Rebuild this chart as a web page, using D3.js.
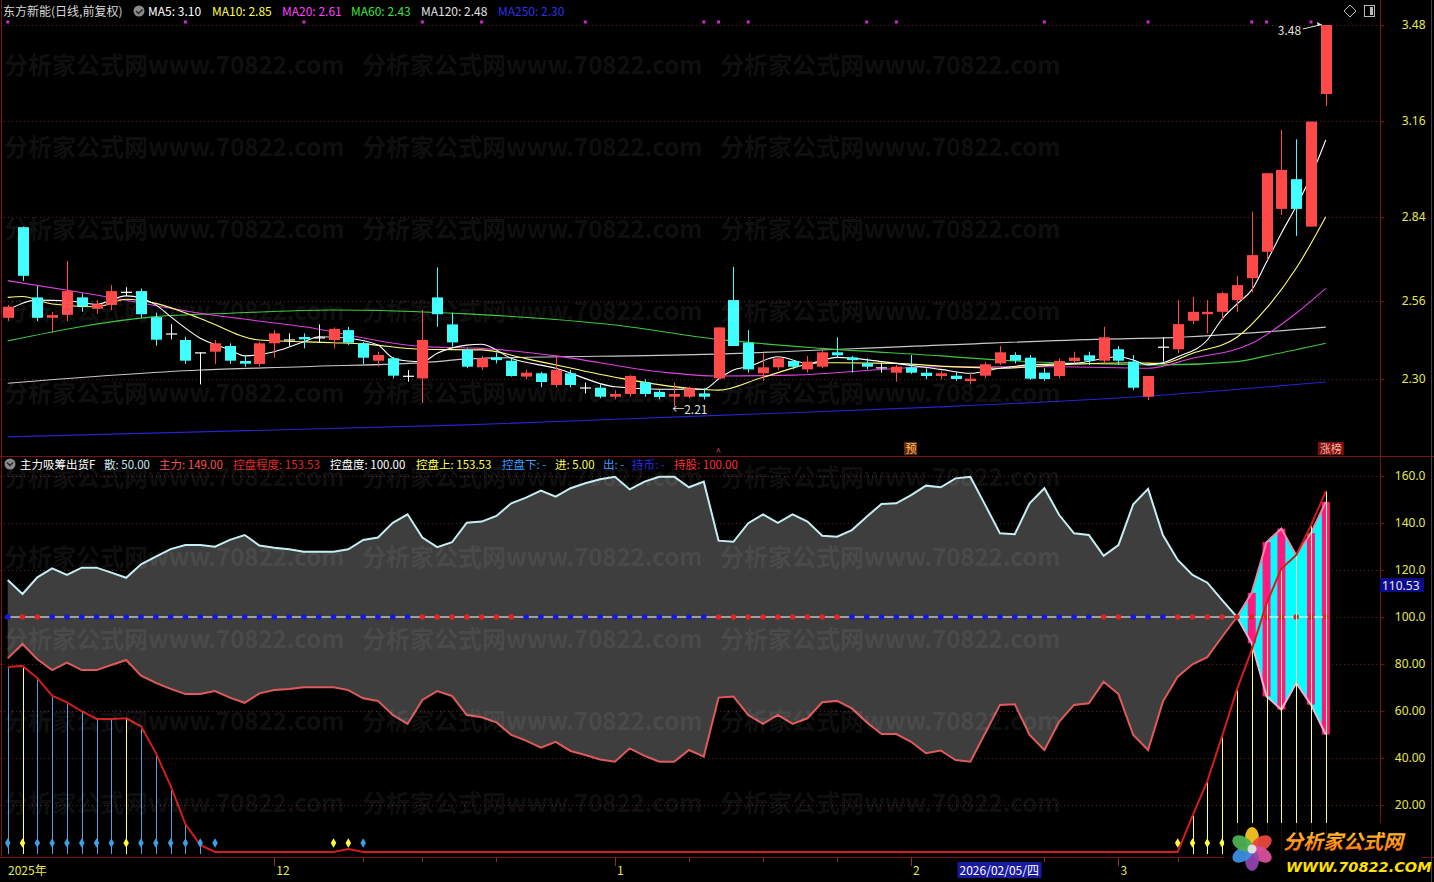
<!DOCTYPE html>
<html>
<head>
<meta charset="utf-8">
<script src="https://cdn.jsdelivr.net/npm/d3@7"></script>
<style>
  body { margin: 0; background: #000; overflow: hidden; }
  text { font-family: "Noto Sans CJK SC", "Noto Sans", sans-serif; }
</style>
</head>
<body>
<script>
// ---- price data, one entry per trading day ----
const openP = [2.504,2.806,2.572,2.504,2.514,2.572,2.534,2.547,2.591,2.593, 2.506,2.452,2.430,2.389,2.391,2.410,2.360,2.350,2.419,2.432,
  2.440,2.439,2.430,2.463,2.419,2.361,2.369,2.311,2.302,2.572, 2.482,2.397,2.339,2.372,2.361,2.308,2.319,2.280,2.319,2.272,
  2.271,2.241,2.250,2.289,2.257,2.241,2.241,2.252,2.302,2.563, 2.421,2.319,2.339,2.360,2.332,2.341,2.389,2.372,2.352,2.339,
  2.321,2.339,2.321,2.310,2.311,2.293,2.311,2.352,2.380,2.371, 2.321,2.310,2.360,2.379,2.361,2.399,2.358,2.241,2.408,2.399,
  2.494,2.516,2.524,2.563,2.636,2.724,2.867,2.966,2.808,3.250];
const highP = [2.547,2.808,2.610,2.524,2.694,2.585,2.563,2.613,2.606,2.602, 2.521,2.483,2.441,2.389,2.430,2.419,2.380,2.424,2.463,2.452,
  2.452,2.482,2.472,2.474,2.424,2.391,2.374,2.330,2.530,2.672, 2.521,2.402,2.377,2.388,2.369,2.330,2.324,2.379,2.330,2.288,
  2.286,2.263,2.313,2.299,2.263,2.288,2.274,2.269,2.472,2.674, 2.463,2.386,2.377,2.363,2.377,2.399,2.439,2.377,2.369,2.354,
  2.347,2.380,2.336,2.328,2.324,2.319,2.356,2.410,2.389,2.380, 2.336,2.369,2.391,2.391,2.474,2.410,2.380,2.310,2.439,2.563,
  2.574,2.563,2.591,2.643,2.858,2.986,3.130,3.099,3.158,3.480];
const lowP = [2.494,2.627,2.493,2.454,2.493,2.524,2.517,2.530,2.577,2.504, 2.411,2.432,2.350,2.282,2.350,2.350,2.341,2.341,2.371,2.410,
  2.402,2.421,2.402,2.413,2.350,2.341,2.302,2.291,2.221,2.474, 2.408,2.336,2.330,2.352,2.308,2.299,2.272,2.272,2.272,2.252,
  2.236,2.232,2.241,2.241,2.232,2.210,2.236,2.232,2.300,2.410, 2.321,2.294,2.330,2.332,2.321,2.336,2.369,2.321,2.332,2.321,
  2.291,2.317,2.299,2.299,2.294,2.282,2.302,2.347,2.352,2.297, 2.294,2.302,2.352,2.347,2.352,2.347,2.263,2.230,2.358,2.386,
  2.483,2.452,2.497,2.524,2.588,2.697,2.847,2.777,2.808,3.210];
const closeP = [2.541,2.644,2.504,2.513,2.593,2.543,2.549,2.593,2.591,2.516, 2.431,2.452,2.361,2.389,2.419,2.361,2.351,2.419,2.452,2.432,
  2.432,2.439,2.467,2.421,2.371,2.380,2.311,2.311,2.430,2.516, 2.422,2.341,2.369,2.363,2.310,2.321,2.290,2.330,2.280,2.272,
  2.241,2.250,2.310,2.250,2.240,2.250,2.269,2.241,2.472,2.410, 2.332,2.339,2.369,2.341,2.358,2.389,2.379,2.363,2.341,2.339,
  2.341,2.321,2.310,2.319,2.300,2.301,2.349,2.389,2.361,2.301, 2.300,2.360,2.371,2.361,2.439,2.361,2.271,2.310,2.408,2.483,
  2.524,2.524,2.586,2.613,2.713,2.986,2.997,2.867,3.158,3.480];

// moving average lines, sampled as [day, value]
const ma5Pts = [[0,2.53],[2,2.563],[4,2.561],[6,2.549],[8,2.577],[10,2.547],[11,2.508],[13,2.436],[15,2.397],[16,2.377],[18,2.391],
  [20,2.424],[21,2.441],[23,2.436],[25,2.413],[26,2.37],[27,2.36],[28,2.358],[29,2.386],[31,2.413],[32,2.416],[34,2.369],[37,2.336],
  [41,2.274],[44,2.266],[47,2.266],[48,2.30],[49,2.33],[50,2.341],[52,2.374],[54,2.352],[56,2.372],[59,2.358],[63,2.332],[65,2.319],
  [67,2.336],[69,2.347],[72,2.352],[75,2.374],[76,2.363],[77,2.347],[78,2.354],[79,2.374],[81,2.43],[82,2.50],[83,2.55],[84,2.597],
  [85,2.69],[86,2.786],[87,2.876],[88,2.976],[89,3.097]];
const ma10Pts = [[0,2.572],[1,2.575],[3,2.55],[6,2.541],[8,2.566],[10,2.552],[13,2.502],[17,2.43],[22,2.421],[24,2.417],[28,2.399],
  [32,2.397],[35,2.368],[41,2.306],[46,2.269],[48,2.263],[51,2.306],[55,2.354],[60,2.352],[63,2.343],[67,2.336],[71,2.347],[76,2.354],
  [78,2.352],[80,2.386],[83,2.439],[85,2.536],[87,2.669],[89,2.841]];
const ma20Pts = [[0,2.628],[6,2.58],[13,2.519],[20,2.474],[28,2.408],[32,2.402],[37,2.377],[44,2.324],[48,2.31],[53,2.313],[63,2.341],
  [71,2.341],[77,2.336],[80,2.369],[84,2.419],[87,2.519],[89,2.602]];
const ma60Pts = [[0,2.427],[10,2.508],[15,2.519],[22,2.53],[31,2.517],[41,2.48],[48,2.432],[55,2.402],[63,2.377],[67,2.363],[74,2.35],
  [78,2.347],[83,2.358],[85,2.377],[89,2.419]];
const ma120Pts = [[0,2.286],[13,2.33],[20,2.341],[29,2.358],[31,2.367],[47,2.382],[63,2.413],[74,2.433],[78,2.437],[89,2.473]];
const ma250Pts = [[0,2.107],[31,2.147],[47,2.177],[63,2.207],[76,2.24],[89,2.29]];

const priceTicks = [3.48, 3.16, 2.84, 2.56, 2.30];
const topDotDays = [0,12,20,28,32,39,47,48,50,58,60,70,77,84,85,88];

// ---- indicator panel data ----
const zhuli = [115.7,109.8,116.9,120.7,117.9,121,121,118.9,116.7,122.4, 125.7,128.9,130.6,130.6,129.9,132.8,134.9,130.4,129.5,128.8,
  127.8,127.8,127.8,128.8,132.8,133.8,140.1,143.7,133.8,129.7, 131.8,140.1,140.6,143,148.4,150.8,153.8,151.2,154.8,156.9,
  158.6,159.7,154.3,157.6,159.7,159.7,155.2,157.6,132.5,132, 139.9,143.7,140.1,143.7,140.6,134.6,134.2,137,142.7,148.1,
  148.4,151.9,155.9,155.2,159,159.7,147.7,135.6,135.2,148.4, 154.8,143.4,135.6,134.9,126,130.6,148,154.5,134.9,124.3,
  117.9,114.6,107.2,100,110.3,131.9,137.6,126.3,135.7,149];
const san = [82.4,88.5,82,77.4,80.6,77.4,77.4,79.6,81.7,75, 72,69.4,67.2,67.2,68.5,65.7,63.5,67.5,68.9,69.4,
  70.1,70.1,70.1,68.9,65.4,64.3,58.3,54.5,64.7,68.5, 66.4,58.3,57.3,55.2,49.8,47.4,44.4,46.9,43,41.3,
  39.4,38.4,44.1,40.9,38.4,38.4,43.4,40.6,65.7,66.2, 58.3,54.5,58.3,54.5,56.9,63.7,64.3,61.1,55.2,50.2,
  50.2,46.9,42,43.2,39.1,38.4,50.5,62.6,62.9,49.8, 43.4,55.5,62.6,63.3,72.5,67.2,49.8,43.4,64,74.6,
  79.9,82.9,91.6,100,88.8,66.2,60.6,71.9,62.7,50];
const kongpan = [78.7,79.2,74,66.5,63.7,59.9,56.6,56.6,56.9,53.5, 42.2,28.1,11.9,3,0,0,0,0,0,0,
  0,0,0,1.3,0,0,0,0,0,0, 0,0,0,0,0,0,0,0,0,0,
  0,0,0,0,0,0,0,0,0,0, 0,0,0,0,0,0,0,0,0,0,
  0,0,0,0,0,0,0,0,0,0, 0,0,0,0,0,0,0,0,0,0,
  15.4,30.2,49.3,69.1,86,105.8,120.6,126.3,139,153.5];
const redDotDays = [1,2,28,29,30,31,32,33,34,48,49,50,51,52,53,54,55,56,74,75,79,80,81,82,83,84,85,86,87,88,89];
const pinkBarDays = [84,85,86,88,89];
const blueStickDays = [0,2,3,4,5,6,7,9,10,11,12,13];
const yellowStickDays = [1,8,80,81,82,83,84,85,86,87,88,89];
const blueDiamondDays = [0,2,3,4,5,6,7,9,10,11,12,13,14,24];
const yellowDiamondDays = [1,8,22,23,79,80,81,82];
const indTicks = [160,140,120,100,80,60,40,20];

// ---- date axis ----
const monthDays = [18,41,61,75];
const monthLabels = ["12","1","2","3"];
const minorDays = [24,28,33,46,51,56,70,79];
const cursorDay = 64;
const cursorLabel = "2026/02/05/四";

const W = 1434, H = 882;
const axisX = 1380;
const frame = "#7a1414";

const svg = d3.select("body").append("svg").attr("width", W).attr("height", H)
  .style("background", "#000");

const x = d3.scaleLinear().domain([0, 89]).range([7.7, 1325.8]);
const yP = d3.scaleLinear().domain([2.30, 3.48]).range([379, 25]);
const yI = d3.scaleLinear().domain([0, 160]).range([852, 476]);

// grid lines
svg.append("g").selectAll("line").data(priceTicks).join("line")
  .attr("x1", 0).attr("x2", axisX).attr("y1", d => Math.round(yP(d)) + .5).attr("y2", d => Math.round(yP(d)) + .5)
  .attr("stroke", "#5a2222").attr("stroke-dasharray", "1,3");
svg.append("g").selectAll("line").data(indTicks).join("line")
  .attr("x1", 0).attr("x2", axisX).attr("y1", d => Math.round(yI(d)) + .5).attr("y2", d => Math.round(yI(d)) + .5)
  .attr("stroke", "#5a2222").attr("stroke-dasharray", "1,3");

// ================= top panel =================
const lineGen = d3.line().x(d => x(d[0])).y(d => yP(d[1])).curve(d3.curveMonotoneX);
const maDefs = [[ma250Pts, "#2424d0"], [ma120Pts, "#c8c8c8"], [ma60Pts, "#3cc83c"], [ma20Pts, "#e040e0"], [ma10Pts, "#ffff78"], [ma5Pts, "#ffffff"]];
maDefs.forEach(([pts, c]) => {
  svg.append("path").attr("d", lineGen(pts)).attr("fill", "none").attr("stroke", c).attr("stroke-width", 1.1);
});

const days = d3.range(openP.length);
const candle = svg.append("g").selectAll("g").data(days).join("g");
function cColor(i) {
  if (Math.abs(closeP[i] - openP[i]) < 0.0015) return "#ffffff";
  return closeP[i] > openP[i] ? "#ff4848" : "#40ffff";
}
candle.append("line")
  .attr("x1", i => Math.round(x(i)) + .5).attr("x2", i => Math.round(x(i)) + .5)
  .attr("y1", i => yP(highP[i])).attr("y2", i => yP(lowP[i]))
  .attr("stroke", cColor).attr("stroke-width", 1);
candle.append("rect")
  .attr("x", i => Math.round(x(i)) - 5).attr("width", 11)
  .attr("y", i => yP(Math.max(openP[i], closeP[i])))
  .attr("height", i => Math.max(1.2, Math.abs(yP(openP[i]) - yP(closeP[i]))))
  .attr("fill", cColor);

// magenta markers along top
svg.append("g").selectAll("rect").data(topDotDays).join("rect")
  .attr("x", d => x(d) - 1.5).attr("y", 20.5).attr("width", 3).attr("height", 3).attr("fill", "#d028d0");

// high / low annotations
svg.append("text").attr("x", x(89) - 48).attr("y", 35).attr("fill", "#e0e0e0").attr("font-size", 12).text("3.48");
svg.append("line").attr("x1", x(89) - 23).attr("y1", 29).attr("x2", x(89) - 4).attr("y2", 24.5).attr("stroke", "#e0e0e0");
svg.append("path").attr("d", `M${x(89) - 4},24.5 l-5,-2.5 l1,4 z`).attr("fill", "#e0e0e0");
svg.append("text").attr("x", x(45) - 2).attr("y", yP(2.21) + 8).attr("fill", "#e0e0e0").attr("font-size", 12).text("←2.21");

// signal labels at bottom of the price panel
svg.append("text").attr("x", x(48) - 3).attr("y", 456).attr("fill", "#e0407a").attr("font-size", 10).text("^");
svg.append("rect").attr("x", x(61) - 7).attr("y", 442).attr("width", 13).attr("height", 13).attr("fill", "#6e2a10");
svg.append("text").attr("x", x(61)).attr("y", 453).attr("text-anchor", "middle").attr("fill", "#ffc060").attr("font-size", 11).text("预");
svg.append("rect").attr("x", x(89) - 8).attr("y", 442).attr("width", 26).attr("height", 13).attr("fill", "#7a1010");
svg.append("text").attr("x", x(89) + 5).attr("y", 453).attr("text-anchor", "middle").attr("fill", "#ffb0a0").attr("font-size", 11).text("涨榜");

// ================= indicator panel =================
const leftDays = d3.range(0, 84);
const rightDays = d3.range(83, 90);
const areaGen = d3.area().x(i => x(i)).y0(i => yI(san[i])).y1(i => yI(zhuli[i]));
svg.append("path").attr("d", areaGen(leftDays)).attr("fill", "#3e3e3e");
svg.append("path").attr("d", areaGen(rightDays)).attr("fill", "#00ffff");
svg.append("g").selectAll("rect").data(pinkBarDays).join("rect")
  .attr("x", i => x(i) - 4).attr("width", 8)
  .attr("y", i => yI(zhuli[i])).attr("height", i => yI(san[i]) - yI(zhuli[i]))
  .attr("fill", "#ff1a80");

const iLine = arr => d3.line().x(i => x(i)).y(i => yI(arr[i]));
svg.append("path").attr("d", iLine(zhuli)(leftDays)).attr("fill", "none").attr("stroke", "#c4eef2").attr("stroke-width", 2);
svg.append("path").attr("d", iLine(san)(leftDays)).attr("fill", "none").attr("stroke", "#e05a5a").attr("stroke-width", 2);
svg.append("path").attr("d", iLine(zhuli)(rightDays)).attr("fill", "none").attr("stroke", "#e88aa8").attr("stroke-width", 2);
svg.append("path").attr("d", iLine(san)(rightDays)).attr("fill", "none").attr("stroke", "#f4b0d0").attr("stroke-width", 2);

// 100 line with dots
svg.append("line").attr("x1", x(0)).attr("x2", x(89)).attr("y1", yI(100)).attr("y2", yI(100))
  .attr("stroke", "#ffffff").attr("stroke-width", 1.2);
svg.append("g").selectAll("circle").data(days).join("circle")
  .attr("cx", i => x(i)).attr("cy", yI(100)).attr("r", 2.8)
  .attr("fill", i => redDotDays.includes(i) ? "#e02424" : "#1818d8");

// sticks
svg.append("g").selectAll("line").data(blueStickDays).join("line")
  .attr("x1", i => Math.round(x(i)) + .5).attr("x2", i => Math.round(x(i)) + .5)
  .attr("y1", yI(0) + 2).attr("y2", i => yI(kongpan[i])).attr("stroke", "#5c9ee0");
svg.append("g").selectAll("line").data(yellowStickDays).join("line")
  .attr("x1", i => Math.round(x(i)) + .5).attr("x2", i => Math.round(x(i)) + .5)
  .attr("y1", yI(0) + 2).attr("y2", i => yI(kongpan[i])).attr("stroke", "#ffff88");

// 控盘程度 line
svg.append("path").attr("d", iLine(kongpan)(days)).attr("fill", "none").attr("stroke", "#d41c1c").attr("stroke-width", 2);

// diamonds
const diamond = d3.symbol().type(d3.symbolDiamond).size(26);
svg.append("g").selectAll("path").data(blueDiamondDays).join("path")
  .attr("d", diamond).attr("transform", i => `translate(${x(i)},843)`).attr("fill", "#3aa0e8");
svg.append("g").selectAll("path").data(yellowDiamondDays).join("path")
  .attr("d", diamond).attr("transform", i => `translate(${x(i)},843)`).attr("fill", "#ffff40");

// ================= watermark =================
const wm = svg.append("g").attr("fill", "#ffffff").attr("fill-opacity", 0.08)
  .attr("font-size", 24).attr("font-weight", "bold");
[65,147,229,311,393,477,557,639,721,803].forEach(yy => {
  [4,362,720].forEach(xx => {
    wm.append("text").attr("x", xx).attr("y", yy + 9).text("分析家公式网www.70822.com");
  });
});

// ================= frame & axes =================
svg.append("line").attr("x1", 1.5).attr("x2", 1.5).attr("y1", 0).attr("y2", 857).attr("stroke", frame);
svg.append("line").attr("x1", 0).attr("x2", W).attr("y1", 456.5).attr("y2", 456.5).attr("stroke", frame);
svg.append("line").attr("x1", 0).attr("x2", W).attr("y1", 857.5).attr("y2", 857.5).attr("stroke", frame);
svg.append("line").attr("x1", W - 2.5).attr("x2", W - 2.5).attr("y1", 0).attr("y2", H).attr("stroke", "#444");

const axTop = svg.append("g").attr("transform", `translate(${axisX + .5},0)`)
  .call(d3.axisRight(yP).tickValues(priceTicks).tickFormat(d3.format(".2f")).tickSize(4));
const axInd = svg.append("g").attr("transform", `translate(${axisX + .5},0)`)
  .call(d3.axisRight(yI).tickValues(indTicks).tickFormat(d => d >= 100 ? d.toFixed(1) : d.toFixed(2)).tickSize(4));
[axTop, axInd].forEach(g => {
  g.select(".domain").remove();
  g.selectAll("line").attr("stroke", frame);
  g.selectAll("text").attr("x", 45).attr("text-anchor", "end").attr("fill", "#e6e650")
    .attr("font-size", 12).style("font-family", "'Noto Sans', sans-serif");
});
svg.append("line").attr("x1", axisX + .5).attr("x2", axisX + .5).attr("y1", 0).attr("y2", 857).attr("stroke", frame);

// current value box
svg.append("rect").attr("x", axisX).attr("y", 578).attr("width", 44).attr("height", 14).attr("fill", "#0c0c8a");
svg.append("text").attr("x", axisX + 2).attr("y", 589.5).attr("fill", "#e8e8ff").attr("font-size", 12)
  .style("font-family", "'Noto Sans', sans-serif").text("110.53");

// top-right icons
svg.append("path").attr("d", "M1350,5 l6,6 l-6,6 l-6,-6 z").attr("fill", "none").attr("stroke", "#bbb");
svg.append("rect").attr("x", 1364.5).attr("y", 5.5).attr("width", 10).attr("height", 11).attr("fill", "none").attr("stroke", "#bbb");
svg.append("rect").attr("x", 1370).attr("y", 7).attr("width", 3).attr("height", 8).attr("fill", "#bbb");

// ================= legends =================
const legendTop = [["东方新能(日线,前复权)", "#d8d8d8", 3], ["MA5: 3.10", "#ffffff", 148], ["MA10: 2.85", "#ffff50", 212],
  ["MA20: 2.61", "#ff40ff", 282], ["MA60: 2.43", "#40e040", 351], ["MA120: 2.48", "#e0e0e0", 421], ["MA250: 2.30", "#3030e8", 498]];
svg.append("circle").attr("cx", 139).attr("cy", 11).attr("r", 5.5).attr("fill", "#8a8a8a");
svg.append("path").attr("d", "M136,11 l2.5,2.5 l4,-4").attr("fill", "none").attr("stroke", "#222").attr("stroke-width", 1.3);
svg.append("g").selectAll("text").data(legendTop).join("text")
  .attr("x", d => d[2]).attr("y", 15.5).attr("fill", d => d[1]).attr("font-size", 12).text(d => d[0]);

const legendInd = [["主力吸筹出货F", "#ffffff", 20], ["散: 50.00", "#c8e4f0", 104], ["主力: 149.00", "#ff5050", 159],
  ["控盘程度: 153.53", "#e02828", 233], ["控盘度: 100.00", "#ffffff", 330], ["控盘上: 153.53", "#ffff50", 416],
  ["控盘下: -", "#3a9cff", 502], ["进: 5.00", "#ffff50", 555], ["出: -", "#3a9cff", 603], ["持币: -", "#2a2ae8", 632],
  ["持股: 100.00", "#ff3030", 674]];
svg.append("circle").attr("cx", 10).attr("cy", 464).attr("r", 5.5).attr("fill", "#8a8a8a");
svg.append("path").attr("d", "M7,462.5 l3,3 l3,-3").attr("fill", "none").attr("stroke", "#222").attr("stroke-width", 1.3);
svg.append("g").selectAll("text").data(legendInd).join("text")
  .attr("x", d => d[2]).attr("y", 468.5).attr("fill", d => d[1]).attr("font-size", 11.5).text(d => d[0]);

// ================= date axis =================
svg.append("g").selectAll("line").data(monthDays.concat(minorDays)).join("line")
  .attr("x1", i => Math.round(x(i)) + .5).attr("x2", i => Math.round(x(i)) + .5)
  .attr("y1", 858).attr("y2", i => monthDays.includes(i) ? 866 : 862).attr("stroke", "#8a3030");
svg.append("text").attr("x", 8).attr("y", 875).attr("fill", "#e6e650").attr("font-size", 12).text("2025年");
svg.append("g").selectAll("text").data(monthDays).join("text")
  .attr("x", i => x(i) + 2).attr("y", 875).attr("fill", "#e6e650").attr("font-size", 12)
  .text((i, k) => monthLabels[k]);
svg.append("rect").attr("x", x(cursorDay) + 2).attr("y", 862).attr("width", 84).attr("height", 16).attr("fill", "#1a1aa0");
svg.append("text").attr("x", x(cursorDay) + 4).attr("y", 875).attr("fill", "#ffffff").attr("font-size", 12).text(cursorLabel);

// ================= logo =================
const logo = svg.append("g");
logo.append("rect").attr("x", 1224).attr("y", 823).attr("width", 198).attr("height", 57).attr("fill", "#000").attr("opacity", 0.92);
const petals = ["#f3c623", "#e8473c", "#d94f9c", "#8e44ad", "#3a8ee0", "#4caf50"];
petals.forEach((c, k) => {
  const a = k * 60 - 90;
  logo.append("ellipse").attr("cx", 1252).attr("cy", 849).attr("rx", 11).attr("ry", 7)
    .attr("transform", `rotate(${a},1252,849) translate(11,0)`).attr("fill", c).attr("opacity", 0.95);
});
logo.append("circle").attr("cx", 1252).attr("cy", 849).attr("r", 4.5).attr("fill", "#ddd");
const grad = svg.append("defs").append("linearGradient").attr("id", "lg").attr("x1", 0).attr("x2", 0).attr("y1", 0).attr("y2", 1);
grad.append("stop").attr("offset", "0%").attr("stop-color", "#ffd040");
grad.append("stop").attr("offset", "100%").attr("stop-color", "#ff6a00");
logo.append("text").attr("x", 1283).attr("y", 849).attr("font-size", 20).attr("font-weight", "bold")
  .attr("font-style", "italic").attr("fill", "url(#lg)").text("分析家公式网");
logo.append("text").attr("x", 1286).attr("y", 872).attr("font-size", 14.5).attr("font-weight", "bold")
  .attr("font-style", "italic").attr("fill", "#ffe000").style("font-family", "'DejaVu Sans', sans-serif").text("WWW.70822.COM");
</script>
</body>
</html>
